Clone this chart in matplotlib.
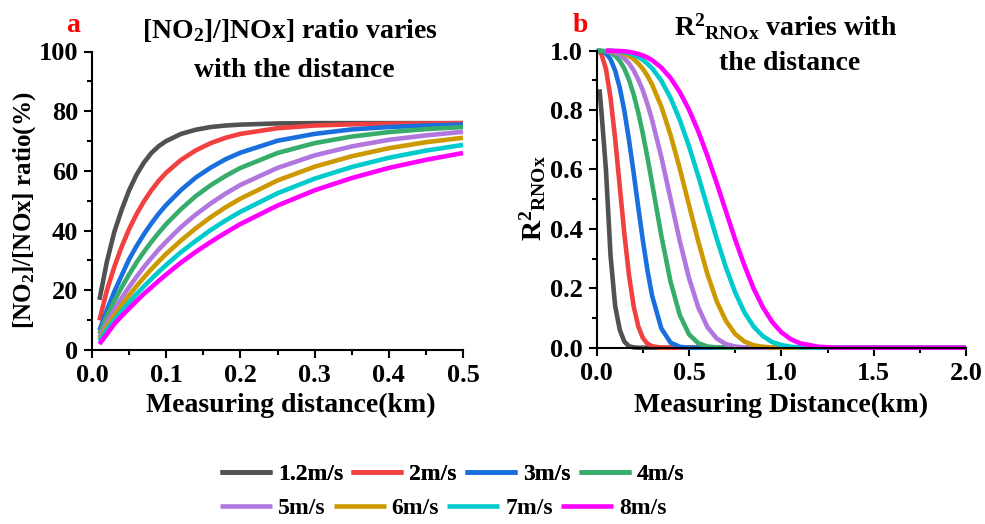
import matplotlib
matplotlib.use("Agg")
import matplotlib.pyplot as plt
from matplotlib.ticker import MultipleLocator, FormatStrFormatter

# =========================
# 1. DATA
# =========================
nan = float("nan")

speeds = ["1.2m/s", "2m/s", "3m/s", "4m/s", "5m/s", "6m/s", "7m/s", "8m/s"]
colors = ["#515151", "#F14040", "#1A6FDF", "#37AD6B",
          "#B177DE", "#CC9900", "#00CBCC", "#FF00FF"]

# panel a: [NO2]/[NOx] ratio (%) vs distance (km)
dist_a = [0.01, 0.02, 0.03, 0.04, 0.05, 0.06, 0.07, 0.08, 0.09, 0.10,
          0.12, 0.14, 0.16, 0.18, 0.20, 0.25, 0.30, 0.35, 0.40, 0.45, 0.50]
ratio_12 = [16.8, 29.5, 39.5, 47.0, 53.5, 58.7, 62.8, 66.0, 68.3, 70.0,
            72.4, 73.8, 74.7, 75.2, 75.5, 75.9, 76.0, 76.0, 76.0, 76.0, 76.0]
ratio_2 = [9.9, 19.9, 27.8, 34.6, 40.5, 45.5, 49.8, 53.5, 56.7, 59.4,
           63.7, 66.9, 69.3, 71.1, 72.4, 74.3, 75.2, 75.6, 75.8, 75.9, 76.0]
ratio_3 = [6.6, 13.3, 19.5, 25.0, 30.4, 34.8, 38.8, 42.4, 45.7, 48.6,
           53.6, 57.8, 61.1, 63.9, 66.1, 70.1, 72.4, 73.9, 74.7, 75.2, 75.5]
ratio_4 = [5.4, 11.4, 16.4, 21.0, 25.3, 29.3, 32.9, 36.2, 39.3, 42.2,
           47.2, 51.6, 55.2, 58.3, 61.0, 66.0, 69.3, 71.5, 73.0, 74.0, 74.7]
ratio_5 = [4.3, 9.3, 13.5, 17.4, 21.1, 24.5, 27.8, 30.8, 33.7, 36.3,
           41.2, 45.4, 49.1, 52.4, 55.3, 61.0, 65.2, 68.2, 70.4, 71.9, 73.1]
ratio_6 = [3.6, 7.9, 11.6, 15.0, 18.3, 21.4, 24.3, 27.1, 29.7, 32.2,
           36.7, 40.8, 44.5, 47.8, 50.7, 56.8, 61.4, 64.9, 67.6, 69.6, 71.1]
ratio_7 = [3.0, 6.8, 10.0, 13.0, 15.9, 18.7, 21.3, 23.8, 26.2, 28.5,
           32.8, 36.6, 40.2, 43.4, 46.3, 52.5, 57.4, 61.3, 64.4, 66.8, 68.7]
ratio_8 = [2.0, 5.3, 8.7, 11.4, 13.9, 16.4, 18.8, 21.0, 23.2, 25.3,
           29.3, 32.9, 36.2, 39.3, 42.2, 48.4, 53.5, 57.6, 61.0, 63.7, 66.0]

# panel b: R2_RNOx vs distance (km)
dist_b = [0.0, 0.015, 0.025, 0.05, 0.075,
          0.1, 0.125, 0.15, 0.175, 0.2,
          0.225, 0.25, 0.275, 0.3, 0.35,
          0.4, 0.45, 0.5, 0.55, 0.6,
          0.65, 0.7, 0.75, 0.8, 0.85,
          0.9, 0.95, 1.0, 1.05, 1.1,
          1.2, 1.3, 1.4, 1.6, 2.0]
r2_12 = [nan, 0.87, 0.80, 0.60, 0.31,
         0.14, 0.06, 0.02, 0.005, 0.001,
         0.0, 0.0, 0.0, 0.0, 0.0,
         0.0, 0.0, 0.0, 0.0, 0.0,
         0.0, 0.0, 0.0, 0.0, 0.0,
         0.0, 0.0, 0.0, 0.0, 0.0,
         0.0, 0.0, 0.0, 0.0, 0.0]
r2_2 = [1.0, 0.997, 0.989, 0.939, 0.841,
        0.703, 0.542, 0.382, 0.244, 0.140,
        0.072, 0.033, 0.013, 0.005, 0.0,
        0.0, 0.0, 0.0, 0.0, 0.0,
        0.0, 0.0, 0.0, 0.0, 0.0,
        0.0, 0.0, 0.0, 0.0, 0.0,
        0.0, 0.0, 0.0, 0.0, 0.0]
r2_3 = [1.0, 1.0, 0.999, 0.991, 0.971,
        0.933, 0.875, 0.797, 0.699, 0.589,
        0.473, 0.361, 0.260, 0.175, 0.065,
        0.017, 0.003, 0.0, 0.0, 0.0,
        0.0, 0.0, 0.0, 0.0, 0.0,
        0.0, 0.0, 0.0, 0.0, 0.0,
        0.0, 0.0, 0.0, 0.0, 0.0]
r2_4 = [1.0, 1.0, 1.0, 0.998, 0.993,
        0.983, 0.966, 0.939, 0.902, 0.853,
        0.792, 0.720, 0.640, 0.553, 0.377,
        0.222, 0.110, 0.045, 0.015, 0.004,
        0.001, 0.0, 0.0, 0.0, 0.0,
        0.0, 0.0, 0.0, 0.0, 0.0,
        0.0, 0.0, 0.0, 0.0, 0.0]
r2_5 = [nan, nan, nan, 0.999, 0.997,
        0.993, 0.986, 0.974, 0.957, 0.934,
        0.903, 0.866, 0.820, 0.767, 0.642,
        0.501, 0.359, 0.234, 0.136, 0.069,
        0.031, 0.012, 0.004, 0.001, 0.0,
        0.0, 0.0, 0.0, 0.0, 0.0,
        0.0, 0.0, 0.0, 0.0, 0.0]
r2_6 = [nan, nan, nan, 1.0, 0.999,
        0.998, 0.995, 0.990, 0.982, 0.972,
        0.957, 0.939, 0.915, 0.886, 0.812,
        0.716, 0.603, 0.480, 0.358, 0.247,
        0.156, 0.090, 0.046, 0.021, 0.008,
        0.003, 0.001, 0.0, 0.0, 0.0,
        0.0, 0.0, 0.0, 0.0, 0.0]
r2_7 = [nan, nan, nan, 1.0, 1.0,
        0.999, 0.997, 0.995, 0.991, 0.986,
        0.979, 0.969, 0.956, 0.941, 0.899,
        0.841, 0.767, 0.678, 0.578, 0.472,
        0.367, 0.270, 0.186, 0.119, 0.071,
        0.039, 0.019, 0.009, 0.003, 0.001,
        0.0, 0.0, 0.0, 0.0, 0.0]
r2_8 = [nan, nan, nan, 1.0, 1.0,
        0.999, 0.999, 0.998, 0.996, 0.993,
        0.989, 0.984, 0.977, 0.968, 0.943,
        0.908, 0.861, 0.801, 0.729, 0.645,
        0.554, 0.459, 0.364, 0.277, 0.199,
        0.136, 0.087, 0.052, 0.029, 0.015,
        0.003, 0.0, 0.0, 0.0, 0.0]

ratios = [ratio_12, ratio_2, ratio_3, ratio_4, ratio_5, ratio_6, ratio_7, ratio_8]
r2s = [r2_12, r2_2, r2_3, r2_4, r2_5, r2_6, r2_7, r2_8]

# =========================
# 2. STYLE
# =========================
plt.rcParams["font.family"] = ["Liberation Serif", "DejaVu Serif"]
plt.rcParams["font.weight"] = "bold"
plt.rcParams["axes.labelweight"] = "bold"
plt.rcParams["mathtext.fontset"] = "custom"
plt.rcParams["mathtext.rm"] = "Liberation Serif:bold"
plt.rcParams["mathtext.it"] = "Liberation Serif:bold"
plt.rcParams["mathtext.bf"] = "Liberation Serif:bold"

W, H = 985, 524
fig = plt.figure(figsize=(W / 100, H / 100), dpi=100)


def fx(px):
    return px / W


def fy(py):
    return 1 - py / H


ax_a = fig.add_axes([fx(92), fy(350), 371 / W, 298.5 / H])
ax_b = fig.add_axes([fx(596.7), fy(347.7), 369.3 / W, 297 / H])

LW = 3.3
FS = 20

for ax in (ax_a, ax_b):
    for s in ("top", "right"):
        ax.spines[s].set_visible(False)
    for s in ("left", "bottom"):
        ax.spines[s].set_linewidth(1.5)
    ax.tick_params(which="major", direction="out", length=6, width=1.5,
                   labelsize=19, pad=4)
    ax.tick_params(which="minor", direction="out", length=3.5, width=1.5)

# =========================
# 3. PANEL A
# =========================
lines = []
for lab, col, ys in zip(speeds, colors, ratios):
    ln, = ax_a.plot(dist_a, ys, color=col, lw=LW, label=lab,
                    solid_capstyle="butt", clip_on=False)
    lines.append(ln)
ax_a.set_xlim(0, 0.5)
ax_a.set_ylim(0, 100)
ax_a.xaxis.set_major_locator(MultipleLocator(0.1))
ax_a.xaxis.set_minor_locator(MultipleLocator(0.05))
ax_a.yaxis.set_major_locator(MultipleLocator(20))
ax_a.yaxis.set_minor_locator(MultipleLocator(10))
ax_a.xaxis.set_major_formatter(FormatStrFormatter("%.1f"))

# =========================
# 4. PANEL B
# =========================
for col, ys in zip(colors, r2s):
    ax_b.plot(dist_b, ys, color=col, lw=LW, solid_capstyle="butt",
              clip_on=False)
ax_b.set_xlim(0, 2.0)
ax_b.set_ylim(0, 1.0)
ax_b.xaxis.set_major_locator(MultipleLocator(0.5))
ax_b.xaxis.set_minor_locator(MultipleLocator(0.25))
ax_b.yaxis.set_major_locator(MultipleLocator(0.2))
ax_b.yaxis.set_minor_locator(MultipleLocator(0.1))
ax_b.xaxis.set_major_formatter(FormatStrFormatter("%.1f"))
ax_b.yaxis.set_major_formatter(FormatStrFormatter("%.1f"))

# =========================
# 5. TEXTS
# =========================
fig.text(fx(73), fy(25), "a", color="red", fontsize=FS, ha="center", va="center")
fig.text(fx(580), fy(25), "b", color="red", fontsize=FS, ha="center", va="center")

fig.text(fx(290), fy(30), "[NO$_2$]/]NOx] ratio varies", fontsize=FS,
         ha="center", va="center")
fig.text(fx(294), fy(70), "with the distance", fontsize=FS,
         ha="center", va="center")
fig.text(fx(786), fy(27), r"R$^2$$_{\mathrm{RNOx}}$ varies with", fontsize=FS,
         ha="center", va="center")
fig.text(fx(790), fy(63), "the distance", fontsize=FS, ha="center", va="center")

fig.text(fx(291), fy(405), "Measuring distance(km)", fontsize=FS,
         ha="center", va="center")
fig.text(fx(781), fy(405), "Measuring Distance(km)", fontsize=FS,
         ha="center", va="center")
fig.text(fx(25), fy(210), "[NO$_2$]/[NOx] ratio(%)", fontsize=18,
         rotation=90, ha="center", va="center")
fig.text(fx(533), fy(198), r"R$^2$$_{\mathrm{RNOx}}$", fontsize=FS,
         rotation=90, ha="center", va="center")

# =========================
# 6. LEGEND (two rows)
# =========================
leg_kw = dict(loc="center left", ncol=4, frameon=False, fontsize=17,
              handlelength=2.2, handletextpad=0.25, columnspacing=0.35,
              borderpad=0, borderaxespad=0)
leg1 = fig.legend(lines[:4], speeds[:4], bbox_to_anchor=(fx(220), fy(474)),
                  **leg_kw)
fig.add_artist(leg1)
fig.legend(lines[4:], speeds[4:], bbox_to_anchor=(fx(220), fy(508)), **leg_kw)

fig.savefig("out.png", dpi=100)
